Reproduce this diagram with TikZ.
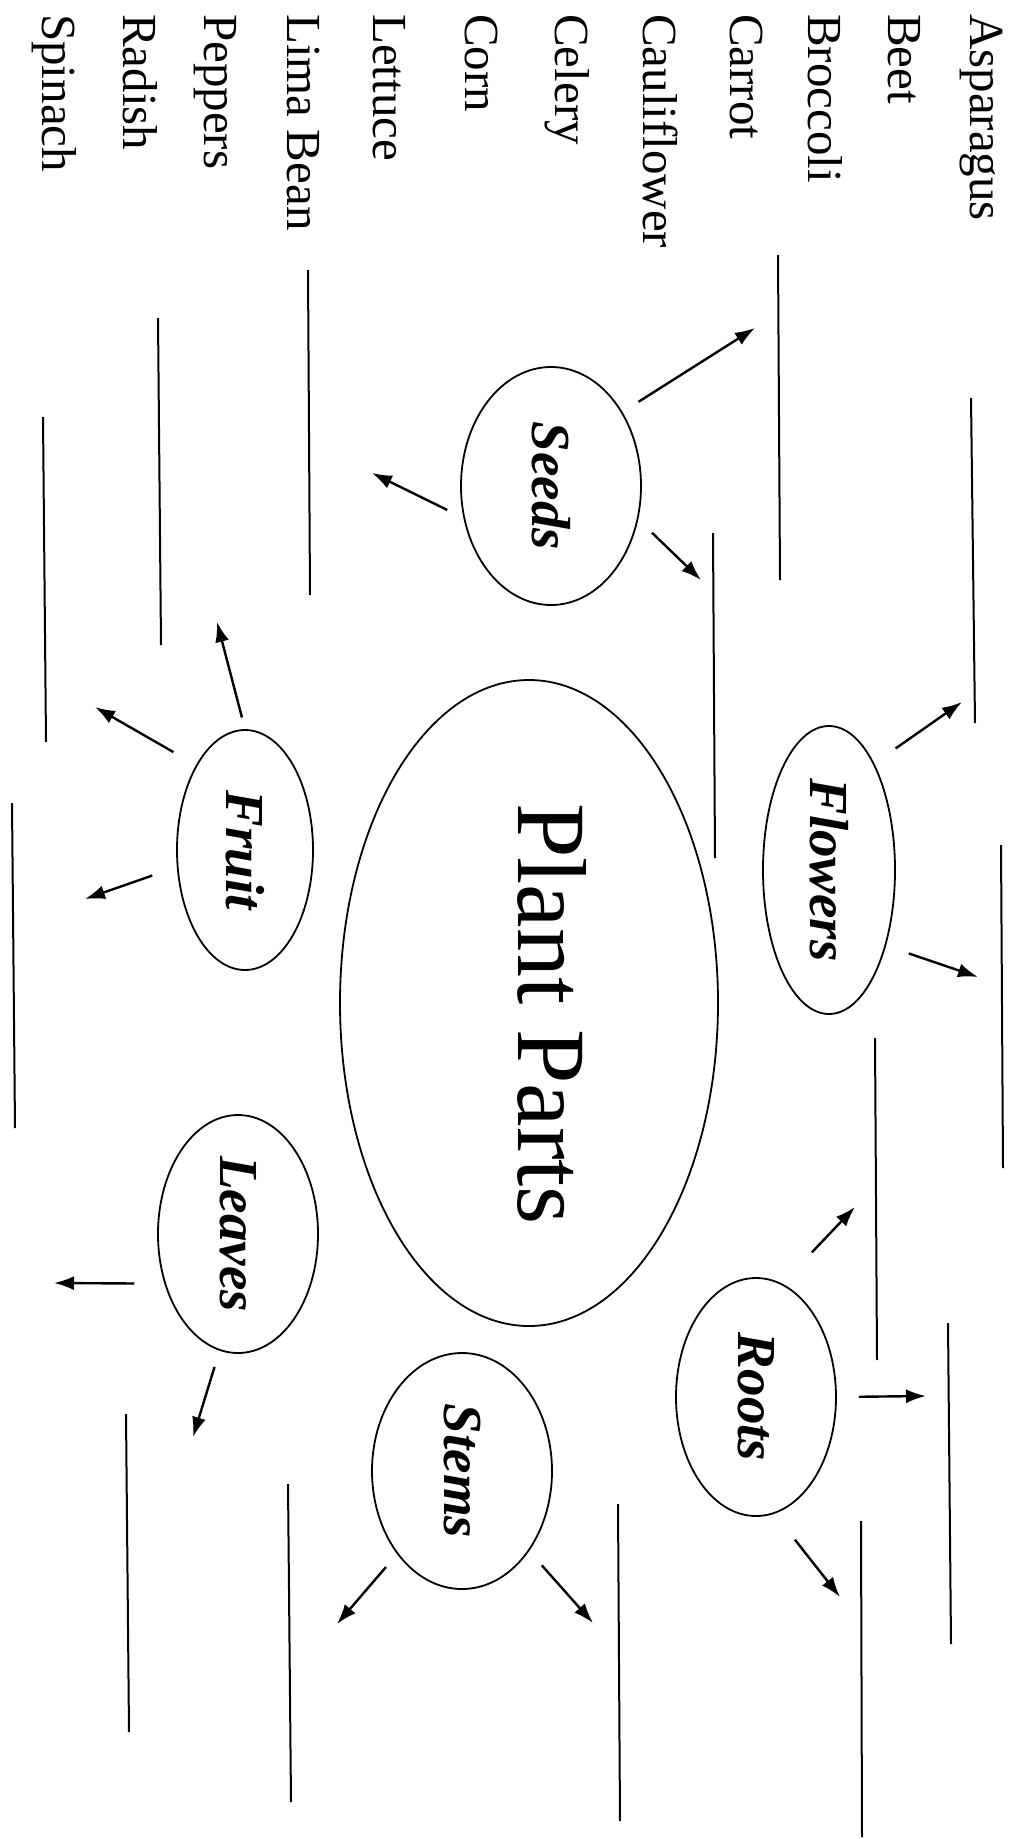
\documentclass[tikz,border=0pt]{standalone}
\usepackage{fontspec}
\setmainfont{Liberation Serif}
\usepackage{graphicx}
\usetikzlibrary{shapes.geometric,arrows.meta}
\newcommand{\vegfont}{\fontsize{49}{49}\selectfont}
\newcommand{\partfont}{\fontsize{55}{55}\selectfont\bfseries\itshape}
\newcommand{\plantfont}{\fontsize{98}{98}\selectfont}

\begin{document}
\begin{tikzpicture}[x=1pt,y=-1pt,
              veg/.style={rotate=-90,anchor=base west,inner sep=0pt,font=\vegfont},
              part/.style={draw,ellipse,line width=1.8pt,inner sep=0pt},
              blank/.style={line width=2pt},
              arr/.style={-{Latex[length=20pt,width=14pt]},line width=2.4pt}]
              \useasboundingbox (0,0) rectangle (1013,1839);
              \node[veg] (asparagus) at (970,14) {Asparagus};
              \node[veg] (beet) at (888,14) {Beet};
              \node[veg] (broccoli) at (808,14) {Broccoli};
              \node[veg] (carrot) at (730,14) {Carrot};
              \node[veg] (cauliflower) at (643,14) {Cauliflower};
              \node[veg] (celery) at (555,14) {Celery};
              \node[veg] (corn) at (465,14) {Corn};
              \node[veg] (lettuce) at (373,14) {Lettuce};
              \node[veg] (limabean) at (287,14) {Lima Bean};
              \node[veg] (peppers) at (204,14) {Peppers};
              \node[veg] (radish) at (123,14) {Radish};
              \node[veg] (spinach) at (42,14) {Spinach};
              \node[part,minimum width=378pt,minimum height=646pt] (plant) at (529,1003) {};
              \node[rotate=-90,anchor=base,inner sep=0pt,font=\plantfont] (title) at (518,1014) {Plant Parts};
              \node[part,minimum width=180pt,minimum height=238pt] (seeds) at (551,486) {\rotatebox{-90}{\partfont Seeds}};
              \node[part,minimum width=132pt,minimum height=288pt] (flowers) at (829,870) {\rotatebox{-90}{\partfont Flowers}};
              \node[part,minimum width=136pt,minimum height=240pt] (fruit) at (245,850) {\rotatebox{-90}{\partfont Fruit}};
              \node[part,minimum width=160pt,minimum height=238pt] (leaves) at (238,1234) {\rotatebox{-90}{\partfont Leaves}};
              \node[part,minimum width=180pt,minimum height=236pt] (stems) at (462,1471) {\rotatebox{-90}{\partfont Stems}};
              \node[part,minimum width=160pt,minimum height=238pt] (roots) at (756,1397) {\rotatebox{-90}{\partfont Roots}};
              \coordinate (s1) at (755,328);
              \coordinate (s2) at (701,580);
              \coordinate (s3) at (372,473);
              \coordinate (f1) at (962,702);
              \coordinate (f2) at (978,977);
              \coordinate (fr1) at (217,622);
              \coordinate (fr2) at (95,707);
              \coordinate (fr3) at (85,899);
              \coordinate (l1) at (54,1283);
              \coordinate (l2) at (193,1437);
              \coordinate (st1) at (337,1624);
              \coordinate (st2) at (593,1623);
              \coordinate (ro1) at (855,1207);
              \coordinate (ro2) at (926,1396);
              \coordinate (ro3) at (840,1597);
              \draw[arr,shorten <=19pt] (seeds.46) -- (s1);
              \draw[arr,shorten <=19pt] (seeds.-21) -- (s2);
              \draw[arr,shorten <=18pt] (seeds.200) -- (s3);
              \draw[arr,shorten <=26pt] (flowers.67) -- (f1);
              \draw[arr,shorten <=24pt] (flowers.-53) -- (f2);
              \draw[arr,shorten <=12pt] (fruit.90) -- (fr1);
              \draw[arr,shorten <=26pt] (fruit.120) -- (fr2);
              \draw[arr,shorten <=26pt] (fruit.194) -- (fr3);
              \draw[arr,shorten <=30pt] (leaves.214) -- (l1);
              \draw[arr,shorten <=17pt] (leaves.261) -- (l2);
              \draw[arr,shorten <=17pt] (stems.232) -- (st1);
              \draw[arr,shorten <=19pt] (stems.-50) -- (st2);
              \draw[arr,shorten <=43pt] (roots.77) -- (ro1);
              \draw[arr,shorten <=22pt] (roots.0) -- (ro2);
              \draw[arr,shorten <=33pt] (roots.-81) -- (ro3);
              \draw[blank] (308,270) -- (310,595);
              \draw[blank] (158,318) -- (161,645);
              \draw[blank] (43,417) -- (46,742);
              \draw[blank] (12,803) -- (15,1128);
              \draw[blank] (778,255) -- (780,580);
              \draw[blank] (971,398) -- (975,723);
              \draw[blank] (713,533) -- (715,858);
              \draw[blank] (1001,845) -- (1003,1168);
              \draw[blank] (875,1038) -- (877,1360);
              \draw[blank] (948,1323) -- (951,1644);
              \draw[blank] (861,1521) -- (862,1837);
              \draw[blank] (618,1504) -- (620,1821);
              \draw[blank] (288,1484) -- (291,1802);
              \draw[blank] (126,1414) -- (129,1732);
            \end{tikzpicture}
\end{document}
